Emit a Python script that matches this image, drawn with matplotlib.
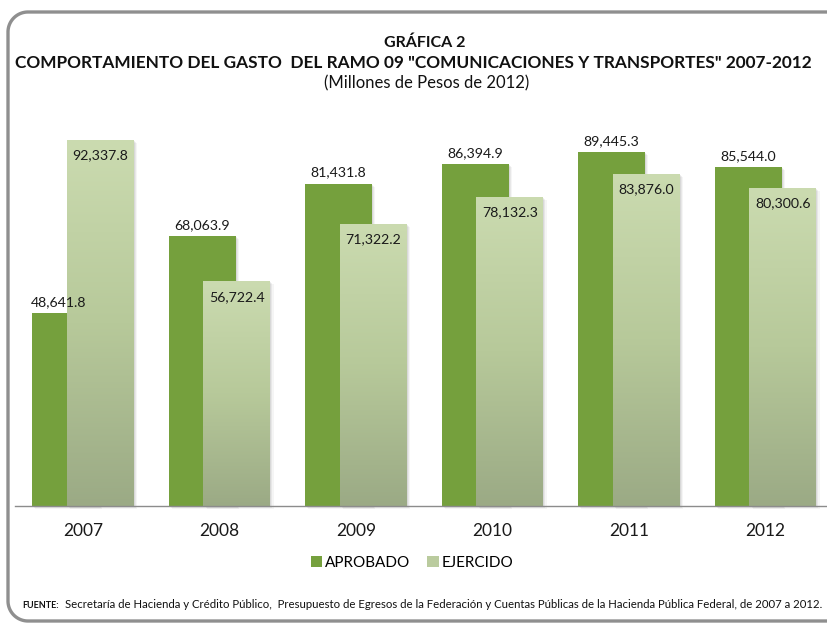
import matplotlib
matplotlib.use("Agg")
import matplotlib.pyplot as plt
import numpy as np
from matplotlib.patches import Rectangle, Patch
from matplotlib.lines import Line2D
from matplotlib.colors import LinearSegmentedColormap

years = ["2007", "2008", "2009", "2010", "2011", "2012"]
aprobado = [48641.8, 68063.9, 81431.8, 86394.9, 89445.3, 85544.0]
ejercido = [92337.8, 56722.4, 71322.2, 78132.3, 83876.0, 80300.6]
series_names = ["APROBADO", "EJERCIDO"]
title1 = "GRÁFICA 2"
title2 = 'COMPORTAMIENTO DEL GASTO  DEL RAMO 09 "COMUNICACIONES Y TRANSPORTES" 2007-2012'
title3 = "(Millones de Pesos de 2012)"
fuente_bold = "FUENTE:"
fuente_text = ("Secretaría de Hacienda y Crédito Público,  Presupuesto de Egresos de la Federación y "
               "Cuentas Públicas de la Hacienda Pública Federal, de 2007 a 2012.")

FONT = ["Lato", "DejaVu Sans"]
plt.rcParams["font.family"] = FONT

W, H = 828, 624
fig = plt.figure(figsize=(W / 100, H / 100), dpi=100)
fig.patch.set_facecolor("white")

def fx(px):
    return px / W

def fy(py):
    return 1 - py / H

# open rounded border (left side only visible, top and bottom run off the right edge)
bax = fig.add_axes([0, 0, 1, 1], zorder=-5)
bax.set_xlim(0, W)
bax.set_ylim(H, 0)
bax.axis("off")
rr, L, T, B = 20, 8, 12, 621
t = np.linspace(0, np.pi / 2, 30)
top_arc_x = L + rr - rr * np.sin(t)
top_arc_y = T + rr - rr * np.cos(t)
bot_arc_x = L + rr - rr * np.cos(t)
bot_arc_y = B - rr + rr * np.sin(t)
bx = np.concatenate([[W + 20], top_arc_x, bot_arc_x, [W + 20]])
by = np.concatenate([[T], top_arc_y, bot_arc_y, [B]])
bax.add_line(Line2D(bx, by, color="#8f8f8f", linewidth=2.4, solid_joinstyle="round"))

ax_left, ax_right = 14.75, 833.75
ax_top, ax_bot = 100, 506
ax = fig.add_axes([fx(ax_left), fy(ax_bot), fx(ax_right - ax_left), (ax_bot - ax_top) / H])
ax.set_facecolor("none")
ymax = (ax_bot - ax_top) / 3.96 * 1000

x = np.arange(len(years))
bw = 0.49
off = 0.127
green = "#75A03D"

# soft shadows
for i in range(len(years)):
    for (xc, v) in ((x[i] - off, aprobado[i]), (x[i] + off, ejercido[i])):
        for k, a in ((1, 0.10), (2, 0.08), (3, 0.06)):
            dx = k * 0.008
            ax.add_patch(Rectangle((xc - bw / 2 + dx, -k * 250), bw, v, facecolor="#555555",
                                   alpha=a, edgecolor="none", zorder=1, clip_on=False))

bars_a = ax.bar(x - off, aprobado, width=bw, color=green, zorder=2, linewidth=0)
bars_e = ax.bar(x + off, ejercido, width=bw, color="none", zorder=3, linewidth=0)

cmap = LinearSegmentedColormap.from_list("ej", ["#9BAA85", "#B7C99A", "#CBDBB0"])
grad = np.linspace(0, 1, 256).reshape(-1, 1)
for b in bars_e:
    x0, w_, h_ = b.get_x(), b.get_width(), b.get_height()
    ax.add_patch(Rectangle((x0, 0), w_, h_, facecolor="white", edgecolor="none", zorder=2.5))
    im = ax.imshow(grad, extent=[x0, x0 + w_, 0, h_], origin="lower", aspect="auto",
                   cmap=cmap, zorder=3, interpolation="bicubic")
    im.set_clip_path(b)

ax.set_xlim(-0.5, len(years) - 0.5)
ax.set_ylim(0, ymax)
ax.set_yticks([])
for s in ("top", "right", "left"):
    ax.spines[s].set_visible(False)
ax.spines["bottom"].set_color("#8c8c8c")
ax.spines["bottom"].set_linewidth(1.0)
ax.spines["bottom"].set_zorder(4)
ax.set_xticks(x)
ax.set_xticklabels(years, fontsize=12.5, color="#1a1a1a")
ax.tick_params(axis="x", length=0, pad=12)

for i in range(len(years)):
    dx = -5 if i == 0 else 0
    ax.annotate(f"{aprobado[i]:,.1f}", (x[i] - off, aprobado[i]), xytext=(dx, 8),
                textcoords="offset points", ha="center", va="center",
                fontsize=10.2, color="#1a1a1a", zorder=5)
    ax.annotate(f"{ejercido[i]:,.1f}", (x[i] + off, ejercido[i]), xytext=(0, -11),
                textcoords="offset points", ha="center", va="center",
                fontsize=10.2, color="#1a1a1a", zorder=5)

# titles
fig.text(fx(425), fy(43), title1, ha="center", va="center", fontsize=11.5,
         fontweight="bold", color="#111111")
t2 = fig.text(fx(413), fy(63), title2, ha="center", va="center", fontsize=11.5,
              fontweight="bold", color="#111111")
fig.text(fx(427), fy(83), title3, ha="center", va="center", fontsize=12, color="#111111")

# legend
handles = [Patch(facecolor=green, edgecolor="none"),
           Patch(facecolor="#BACB9E", edgecolor="none")]
leg = fig.legend(handles, series_names, loc="center", bbox_to_anchor=(fx(412), fy(563)),
                 ncol=2, frameon=False, fontsize=11, handlelength=0.75, handleheight=0.75,
                 handletextpad=0.2, columnspacing=1.1)

# footnote
fb = fig.text(fx(22), fy(605), fuente_bold, ha="left", va="center", fontsize=7,
              fontweight="bold", color="#111111")
ft = fig.text(fx(65), fy(605), fuente_text, ha="left", va="center", fontsize=7,
              color="#111111")

fig.canvas.draw()
r = fig.canvas.get_renderer()

def fit(tx, target_px):
    w = tx.get_window_extent(r).width
    tx.set_fontsize(tx.get_fontsize() * target_px / w)

fit(t2, 800)
fit(ft, 758)
fit(fb, 37)

fig.savefig("out.png", dpi=100, facecolor="white")
